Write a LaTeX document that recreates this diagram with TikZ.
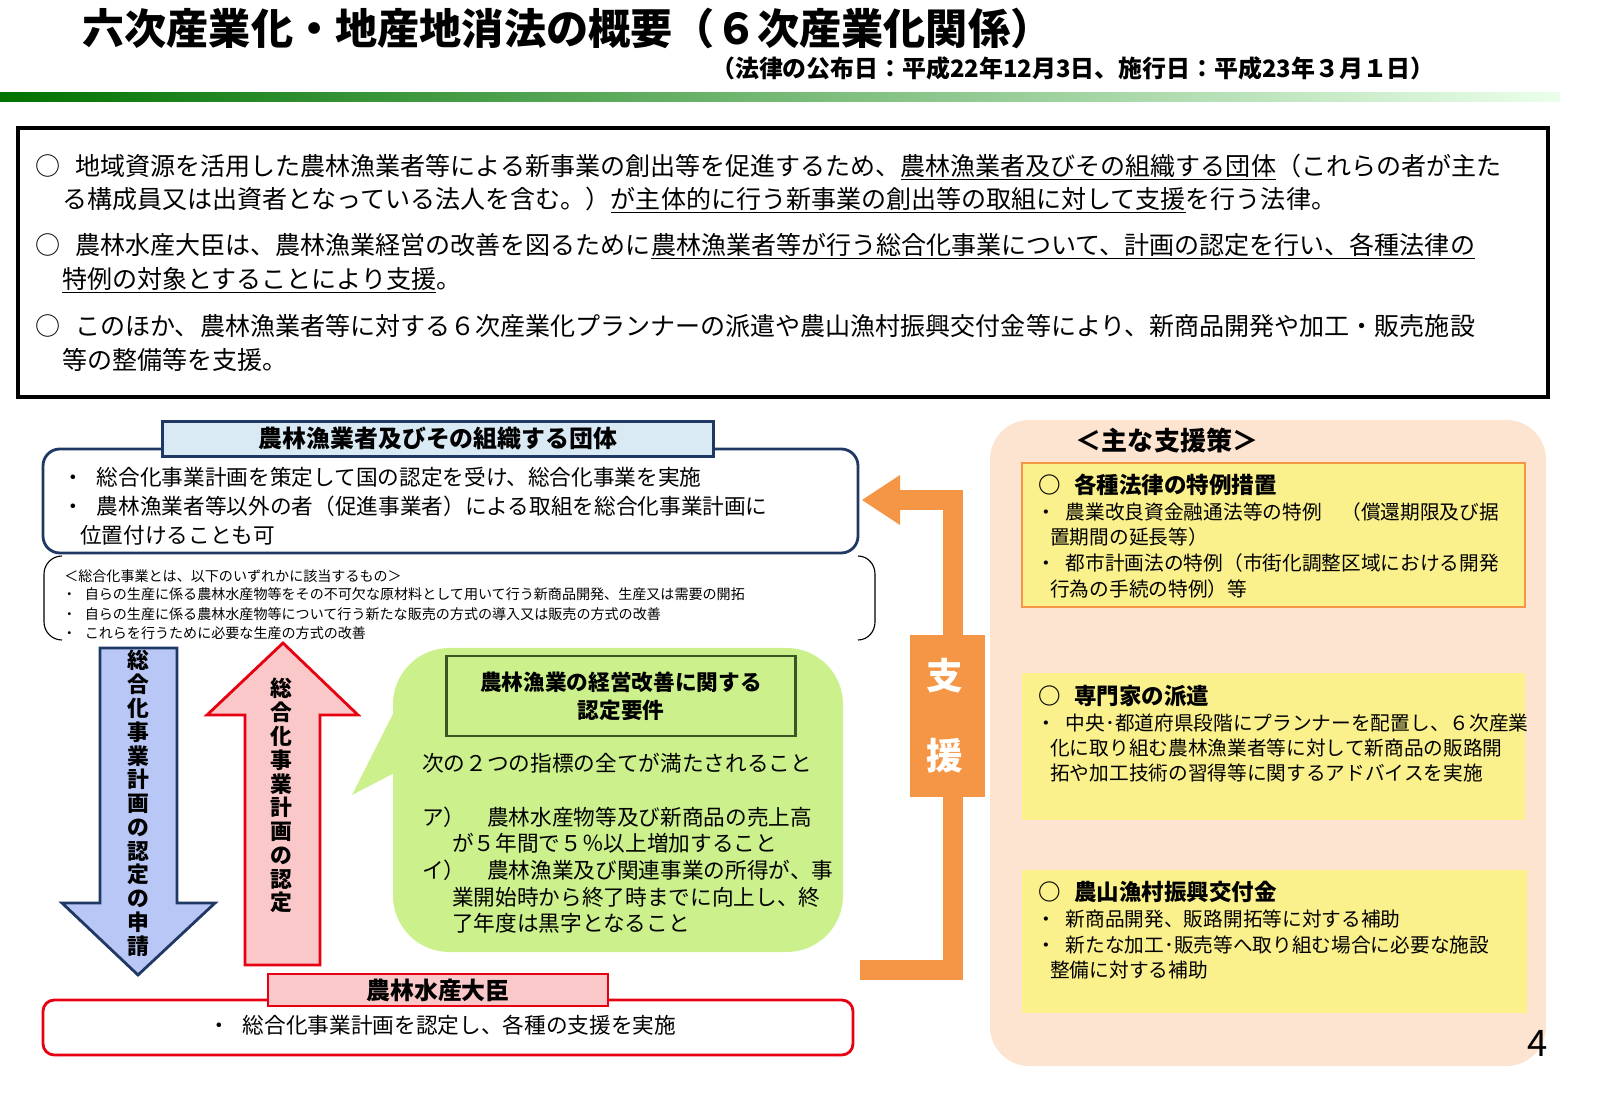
\documentclass[tikz,border=0pt]{standalone}
\usepackage{fontspec}
\setmainfont{Noto Sans CJK JP}
\usetikzlibrary{positioning}
\definecolor{navy}{RGB}{31,56,100}
\definecolor{lblue}{RGB}{218,234,244}
\definecolor{pinkf}{RGB}{250,200,200}
\definecolor{redb}{RGB}{230,0,18}
\definecolor{lgreen}{RGB}{204,240,140}
\definecolor{dgreen}{RGB}{56,87,35}
\definecolor{orng}{RGB}{245,150,70}
\definecolor{peach}{RGB}{252,228,208}
\definecolor{yel}{RGB}{250,240,140}
\newcommand{\fs}[1]{\fontsize{#1}{#1}\selectfont}
\tikzset{
  body/.style={anchor=west, inner sep=0pt, font=\fs{17.8}},
  small/.style={anchor=west, inner sep=0pt, font=\fs{15.4}},
  tiny/.style={anchor=west, inner sep=0pt, font=\fs{10}},
  side/.style={anchor=west, inner sep=0pt, font=\fs{14}},
  vtext/.style={align=center, inner sep=0pt, font=\bfseries\fontsize{15.5}{16.9}\selectfont}
}
\begin{document}
\begin{tikzpicture}[x=0.025cm, y=-0.025cm]
  % header
  \node[anchor=west, inner sep=0pt, font=\bfseries\fs{30}] (title) at (82,28) {六次産業化・地産地消法の概要（６次産業化関係）};
  \node[anchor=east, inner sep=0pt, font=\bfseries\fs{17}] (date) at (1435,68) {（法律の公布日：平成22年12月3日、施行日：平成23年３月１日）};
  \shade[left color=green!45!black, right color=green!8] (0,93) rectangle (1560,102);

  % outline box
  \draw[line width=2.5pt] (18,128) rectangle (1548,397);
  \node[body] (l1) at (35,167) {○\hspace{0.6em}地域資源を活用した農林漁業者等による新事業の創出等を促進するため、\underline{農林漁業者及びその組織する団体}（これらの者が主た};
  \node[body] (l2) at (62,200) {る構成員又は出資者となっている法人を含む。）\underline{が主体的に行う新事業の創出等の取組に対して支援}を行う法律。};
  \node[body] (l3) at (35,246) {○\hspace{0.6em}農林水産大臣は、農林漁業経営の改善を図るために\underline{農林漁業者等が行う総合化事業について、計画の認定を行い、各種法律の}};
  \node[body] (l4) at (62,280) {\underline{特例の対象とすることにより支援}。};
  \node[body] (l5) at (35,326) {○\hspace{0.6em}このほか、農林漁業者等に対する６次産業化プランナーの派遣や農山漁村振興交付金等により、新商品開発や加工・販売施設};
  \node[body] (l6) at (62,360) {等の整備等を支援。};

  % groups
  \draw[navy, line width=2pt, rounded corners=12] (43,449) rectangle (858,553);
  \node[draw=navy, fill=lblue, line width=2pt, minimum width=551*0.025cm, minimum height=35*0.025cm, inner sep=0pt, font=\bfseries\fs{17}] (group) at (438,439) {農林漁業者及びその組織する団体};
  \node[small] (g1) at (62,477) {・\hspace{0.6em}総合化事業計画を策定して国の認定を受け、総合化事業を実施};
  \node[small] (g2) at (62,506) {・\hspace{0.6em}農林漁業者等以外の者（促進事業者）による取組を総合化事業計画に};
  \node[small] (g3) at (80,535) {位置付けることも可};

  % bracket
  \draw[thick] (62,556) to[out=180,in=90] (44,574) -- (44,622) to[out=-90,in=180] (62,640);
  \draw[thick] (858,556) to[out=0,in=90] (875,574) -- (875,622) to[out=-90,in=0] (858,640);
  \node[tiny] (b0) at (64,576) {＜総合化事業とは、以下のいずれかに該当するもの＞};
  \node[tiny] (b1) at (62,594) {・\hspace{0.6em}自らの生産に係る農林水産物等をその不可欠な原材料として用いて行う新商品開発、生産又は需要の開拓};
  \node[tiny] (b2) at (62,614) {・\hspace{0.6em}自らの生産に係る農林水産物等について行う新たな販売の方式の導入又は販売の方式の改善};
  \node[tiny] (b3) at (62,633) {・\hspace{0.6em}これらを行うために必要な生産の方式の改善};

  % application / approval arrows
  \draw[navy, fill=lblue!85!blue, line width=2pt] (100,648) -- (177,648) -- (177,903) -- (215,903) -- (138,975) -- (62,903) -- (100,903) -- cycle;
  \node[vtext, anchor=north] (apply) at (138,650) {総\\合\\化\\事\\業\\計\\画\\の\\認\\定\\の\\申\\請};
  \draw[redb, fill=pinkf, line width=2pt] (245,965) -- (320,965) -- (320,715) -- (358,715) -- (283,643) -- (207,715) -- (245,715) -- cycle;
  \node[vtext, anchor=north] (approve) at (281,678) {総\\合\\化\\事\\業\\計\\画\\の\\認\\定};

  % requirements bubble
  \fill[lgreen, rounded corners=40] (393,648) rectangle (843,952);
  \fill[lgreen] (400,700) -- (352,795) -- (400,770) -- cycle;
  \node[draw=dgreen, line width=2pt, minimum width=349*0.025cm, minimum height=80*0.025cm, align=center, font=\bfseries\fontsize{15.4}{20}\selectfont] (req) at (621,696) {農林漁業の経営改善に関する\\認定要件};
  \node[small] (r0) at (422,763) {次の２つの指標の全てが満たされること};
  \node[small] (r1) at (422,817) {ア）\hspace{1em}農林水産物等及び新商品の売上高};
  \node[small] (r2) at (452,843) {が５年間で５％以上増加すること};
  \node[small] (r3) at (422,870) {イ）\hspace{1em}農林漁業及び関連事業の所得が、事};
  \node[small] (r4) at (452,897) {業開始時から終了時までに向上し、終};
  \node[small] (r5) at (452,923) {了年度は黒字となること};

  % minister
  \draw[redb, line width=2pt, rounded corners=8] (43,1000) rectangle (853,1055);
  \node[draw=redb, fill=pinkf, line width=2pt, minimum width=340*0.025cm, minimum height=32*0.025cm, inner sep=0pt, font=\bfseries\fs{17}] (minister) at (438,990) {農林水産大臣};
  \node[small] (m1) at (208,1025) {・\hspace{0.6em}総合化事業計画を認定し、各種の支援を実施};

  % support arrow
  \draw[orng, line width=14pt] (860,970) -- (953,970) -- (953,500) -- (900,500);
  \fill[orng] (862,500) -- (900,475) -- (900,525) -- cycle;
  \fill[orng] (910,635) rectangle (985,797);
  \node[text=white, font=\bfseries\fs{26}] (shi) at (945,676) {支};
  \node[text=white, font=\bfseries\fs{26}] (en) at (945,756) {援};

  % measures panel
  \fill[peach, rounded corners=28] (990,420) rectangle (1546,1066);
  \node[font=\bfseries\fs{18.5}] (measures) at (1167,441) {＜主な支援策＞};
  \draw[orng, fill=yel, line width=2pt] (1022,463) rectangle (1525,607);
  \node[side, font=\bfseries\fs{16}] (k1) at (1038,485) {○\hspace{0.6em}各種法律の特例措置};
  \node[side] (k11) at (1036,512) {・\hspace{0.5em}農業改良資金融通法等の特例　（償還期限及び据};
  \node[side] (k12) at (1050,537) {置期間の延長等）};
  \node[side] (k13) at (1036,563) {・\hspace{0.5em}都市計画法の特例（市街化調整区域における開発};
  \node[side] (k14) at (1050,589) {行為の手続の特例）等};
  \fill[yel] (1022,673) rectangle (1525,820);
  \node[side, font=\bfseries\fs{16}] (k2) at (1038,696) {○\hspace{0.6em}専門家の派遣};
  \node[side] (k21) at (1036,723) {・\hspace{0.5em}中央･都道府県段階にプランナーを配置し、６次産業};
  \node[side] (k22) at (1050,748) {化に取り組む農林漁業者等に対して新商品の販路開};
  \node[side] (k23) at (1050,773) {拓や加工技術の習得等に関するアドバイスを実施};
  \fill[yel] (1022,870) rectangle (1527,1013);
  \node[side, font=\bfseries\fs{16}] (k3) at (1038,892) {○\hspace{0.6em}農山漁村振興交付金};
  \node[side] (k31) at (1036,919) {・\hspace{0.5em}新商品開発、販路開拓等に対する補助};
  \node[side] (k32) at (1036,945) {・\hspace{0.5em}新たな加工･販売等へ取り組む場合に必要な施設};
  \node[side] (k33) at (1050,970) {整備に対する補助};
  \node[font=\fs{26}] (page) at (1538,1043) {4};
  \pgfresetboundingbox
  \path[use as bounding box] (0,0) rectangle (1600,1108);
\end{tikzpicture}
\end{document}
